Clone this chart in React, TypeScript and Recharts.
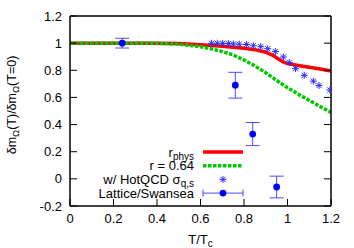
import { ComposedChart, Line, Scatter, XAxis, YAxis, ErrorBar, Legend } from 'recharts';

const FONT = '"Liberation Sans", Arial, Helvetica, sans-serif';

// r_phys curve
const physT = [0, 0.4, 0.5, 0.6, 0.7, 0.75, 0.8, 0.85, 0.9, 0.93, 0.96, 0.98, 1.0, 1.05, 1.1, 1.15, 1.2];
const physV = [1, 1, 0.997, 0.988, 0.977, 0.97, 0.962, 0.952, 0.933, 0.912, 0.882, 0.862, 0.849, 0.835, 0.822, 0.809, 0.795];

// r = 0.64 curve
const r064T = [0, 0.3, 0.4, 0.5, 0.6, 0.65, 0.7, 0.75, 0.8, 0.85, 0.9, 0.95, 1.0, 1.05, 1.1, 1.15, 1.2];
const r064V = [1, 1, 0.998, 0.992, 0.974, 0.958, 0.938, 0.913, 0.876, 0.832, 0.782, 0.725, 0.672, 0.624, 0.578, 0.533, 0.49];

// w/ HotQCD sigma_q,s
const hotT = [0.651, 0.677, 0.702, 0.728, 0.751, 0.778, 0.812, 0.843, 0.877, 0.909, 0.944, 0.981, 1.008, 1.037, 1.077, 1.119, 1.145, 1.195];
const hotV = [0.999, 0.999, 0.998, 0.997, 0.994, 0.992, 0.99, 0.981, 0.974, 0.959, 0.938, 0.898, 0.857, 0.812, 0.763, 0.72, 0.688, 0.655];

// Lattice/Swansea
const latT = [0.24, 0.76, 0.84, 0.95];
const latV = [1.0, 0.69, 0.33, -0.06];
const latErr = [0.036, 0.095, 0.085, 0.08];

const xTicks = [0, 0.2, 0.4, 0.6, 0.8, 1, 1.2];
const yTicks = [-0.2, 0, 0.2, 0.4, 0.6, 0.8, 1, 1.2];

const zip = (ts: number[], vs: number[]) => ts.map((t, i) => ({ t, v: vs[i] }));
const physData = zip(physT, physV);
const r064Data = zip(r064T, r064V);
const hotData = zip(hotT, hotV);
const latData = latT.map((t, i) => ({ t, v: latV[i], err: latErr[i] }));

const RED = '#ff0000';
const GREEN = '#00c800';
const BLUE = '#0000ff';
const BAR = '#4a4aff';
const DASH = '3.5 1.5';

function Star(p: any) {
  const { cx, cy } = p;
  const r = 3.5;
  const d = 2.6;
  return (
    <g stroke="#2a2aff" strokeWidth={1}>
      <line x1={cx - r} y1={cy} x2={cx + r} y2={cy} />
      <line x1={cx} y1={cy - r} x2={cx} y2={cy + r} />
      <line x1={cx - d} y1={cy - d} x2={cx + d} y2={cy + d} />
      <line x1={cx - d} y1={cy + d} x2={cx + d} y2={cy - d} />
    </g>
  );
}

function Dot(p: any) {
  return <circle cx={p.cx} cy={p.cy} r={3.4} fill={BLUE} />;
}

function LegendBox() {
  const tx = 104;
  const x1 = 113;
  const x2 = 153;
  const rows = [9, 22.7, 36.4, 50.1];
  const ts = { fontFamily: FONT, fontSize: 13, fill: '#000' } as const;
  return (
    <svg width={170} height={62} style={{ display: 'block' }}>
      <text x={tx} y={rows[0] + 4.5} textAnchor="end" {...ts}>
        r<tspan fontSize={10} dy={3}>phys</tspan>
      </text>
      <line x1={x1} y1={rows[0]} x2={x2} y2={rows[0]} stroke={RED} strokeWidth={3.5} />
      <text x={tx} y={rows[1] + 4.5} textAnchor="end" {...ts}>r = 0.64</text>
      <line x1={x1} y1={rows[1]} x2={x2} y2={rows[1]} stroke={GREEN} strokeWidth={3.5} strokeDasharray={DASH} />
      <text x={tx} y={rows[2] + 4.5} textAnchor="end" {...ts}>
        w/ HotQCD σ<tspan fontSize={10} dy={3}>q,s</tspan>
      </text>
      <Star cx={(x1 + x2) / 2} cy={rows[2]} />
      <text x={tx} y={rows[3] + 4.5} textAnchor="end" {...ts}>Lattice/Swansea</text>
      <g stroke={BAR} strokeWidth={1}>
        <line x1={x1} y1={rows[3]} x2={x2} y2={rows[3]} />
        <line x1={x1} y1={rows[3] - 3.5} x2={x1} y2={rows[3] + 3.5} />
        <line x1={x2} y1={rows[3] - 3.5} x2={x2} y2={rows[3] + 3.5} />
      </g>
      <Dot cx={(x1 + x2) / 2} cy={rows[3]} />
    </svg>
  );
}

function XTitle(props: any) {
  const vb = props.viewBox;
  return (
    <text x={vb.x + vb.width / 2} y={vb.y + 38} textAnchor="middle" fontFamily={FONT} fontSize={13} fill="#000">
      T/T<tspan fontSize={10} dy={3}>c</tspan>
    </text>
  );
}

function YTitle(props: any) {
  const vb = props.viewBox;
  const x = vb.x + 16;
  const y = vb.y + vb.height / 2 - 6;
  return (
    <text x={x} y={y} transform={`rotate(-90 ${x} ${y})`} textAnchor="middle" fontFamily={FONT} fontSize={12.5} fill="#000">
      δm<tspan fontSize={9.5} dy={3}>Ω</tspan>
      <tspan dy={-3}>(T)/δm</tspan>
      <tspan fontSize={9.5} dy={3}>Ω</tspan>
      <tspan dy={-3}>(T=0)</tspan>
    </text>
  );
}

const tickStyle = { fontSize: 13, fill: '#000', fontFamily: FONT };
const axisLine = { stroke: '#000', strokeWidth: 1.5 };
const tickLine = { stroke: '#000', strokeWidth: 1 };
const blank = () => '';

export default function App() {
  return (
    <div style={{ width: 354, height: 248 }}>
      <style>{'body{margin:0}'}</style>
      <ComposedChart width={354} height={248} margin={{ top: 16, right: 23, bottom: 0, left: 0 }}>
        <XAxis
          dataKey="t"
          type="number"
          domain={[0, 1.2]}
          ticks={xTicks}
          allowDataOverflow
          height={42}
          tick={tickStyle}
          tickSize={-7}
          tickMargin={15}
          axisLine={axisLine}
          tickLine={tickLine}
          label={{ content: XTitle }}
        />
        <XAxis
          xAxisId="top"
          orientation="top"
          mirror
          type="number"
          domain={[0, 1.2]}
          ticks={xTicks}
          allowDataOverflow
          tickFormatter={blank}
          tickSize={7}
          axisLine={axisLine}
          tickLine={tickLine}
        />
        <YAxis
          type="number"
          domain={[-0.2, 1.2]}
          ticks={yTicks}
          allowDataOverflow
          width={70}
          tick={tickStyle}
          tickSize={-7}
          tickMargin={15}
          axisLine={axisLine}
          tickLine={tickLine}
          label={{ content: YTitle }}
        />
        <YAxis
          yAxisId="right"
          orientation="right"
          mirror
          type="number"
          domain={[-0.2, 1.2]}
          ticks={yTicks}
          allowDataOverflow
          tickFormatter={blank}
          tickSize={7}
          axisLine={axisLine}
          tickLine={tickLine}
        />
        <Line data={physData} dataKey="v" type="linear" stroke={RED} strokeWidth={3.5} dot={false} isAnimationActive={false} />
        <Line
          data={r064Data}
          dataKey="v"
          type="linear"
          stroke={GREEN}
          strokeWidth={3.5}
          strokeDasharray={DASH}
          dot={false}
          isAnimationActive={false}
        />
        <Scatter data={hotData} dataKey="v" shape={Star} isAnimationActive={false} />
        <Scatter data={latData} dataKey="v" shape={Dot} isAnimationActive={false}>
          <ErrorBar dataKey="err" direction="y" width={7} stroke={BAR} strokeWidth={1} />
        </Scatter>
        <Legend
          layout="vertical"
          align="center"
          verticalAlign="middle"
          content={LegendBox}
          wrapperStyle={{ left: 90, top: 143, width: 170, height: 62 }}
        />
      </ComposedChart>
    </div>
  );
}
